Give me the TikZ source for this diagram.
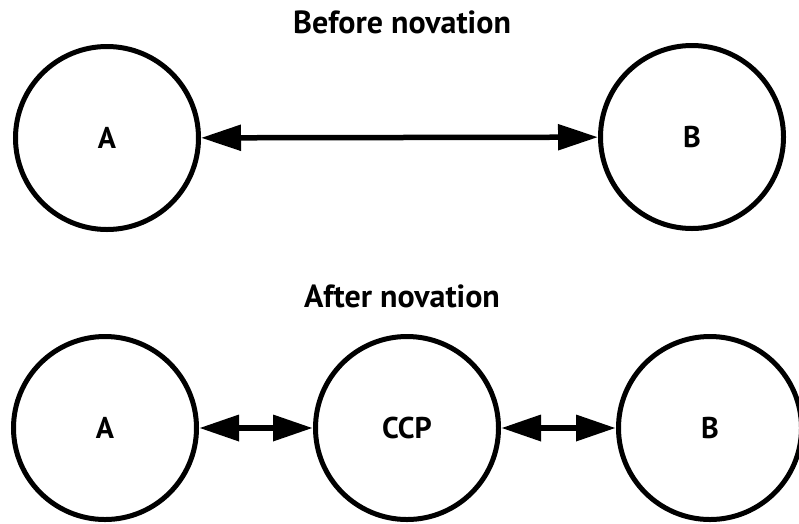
\documentclass[tikz,border=0pt]{standalone}
\usepackage{fontspec}
\setmainfont{PT Sans}
\usepackage{tikz}
\usetikzlibrary{shapes, arrows.meta, positioning}

\begin{document}
\begin{tikzpicture}[x=1pt, y=-1pt,
    party/.style={draw, circle, line width=5pt, minimum size=183pt, inner sep=0pt, font=\bfseries\fontsize{30}{32}\selectfont},
    heading/.style={font=\bfseries\fontsize{32}{34}\selectfont},
    link/.style={line width=5.5pt, {Triangle[length=40pt,width=25pt]}-{Triangle[length=40pt,width=25pt]}}]
  \useasboundingbox (0,0) rectangle (799,523);

  % before novation
  \node[heading] (before) at (402,22) {Before novation};
  \node[party] (aTop) at (107,138) {A};
  \node[party] (bTop) at (692,137) {B};
  \draw[link] (aTop) -- (bTop);

  % after novation
  \node[heading] (after) at (402,296) {After novation};
  \node[party] (aBot) at (105,428) {A};
  \node[party] (ccp) at (407,428) {CCP};
  \node[party] (bBot) at (710,428) {B};
  \draw[link, line width=6.5pt] (aBot) -- (ccp);
  \draw[link, line width=6.5pt] (ccp) -- (bBot);
\end{tikzpicture}
\end{document}
